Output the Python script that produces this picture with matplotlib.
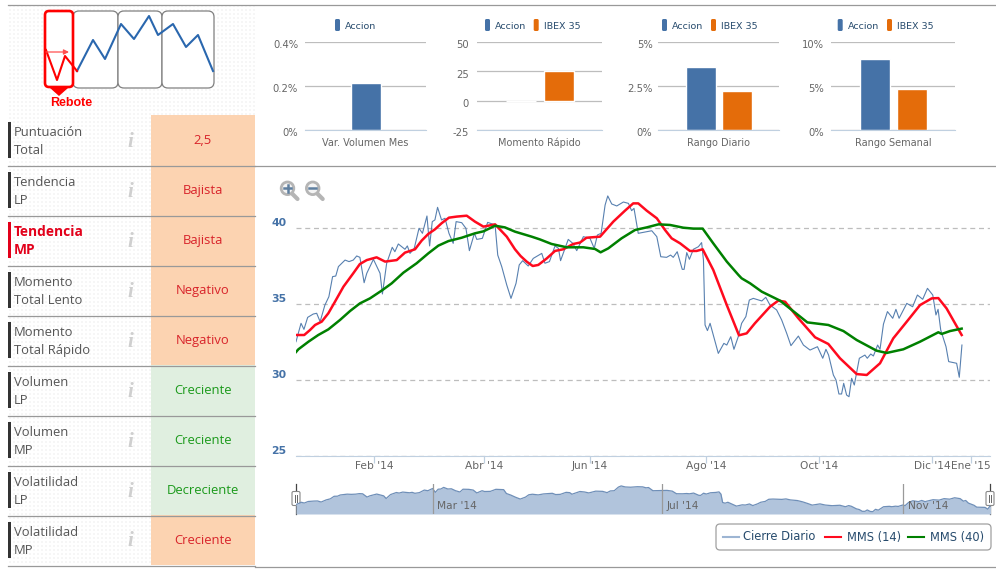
import numpy as np
import matplotlib
matplotlib.use('Agg')
import matplotlib.pyplot as plt
from matplotlib.patches import FancyBboxPatch, Rectangle, Circle, Polygon
from matplotlib.transforms import ScaledTranslation

W, H = 996, 569

# main chart, x is the trading session number
close_x = [0, 1.9, 3.0, 4.4, 6.5, 7.8, 9.1, 10.9, 12.4, 13.8, 15.0, 16.0, 18.5, 20.0, 21.6, 22.9, 24.1, 25.7, 26.7,
           29.2, 31.7, 32.6, 34.2, 36.3, 37.3, 38.6, 41.1, 42.0, 43.0, 44.6, 46.4, 47.7, 49.4, 50.4, 51.4, 52.4,
           53.4, 54.9, 56.2, 57.7, 59.3, 60.4, 62.5, 64.1, 65.4, 67.3, 68.2, 70.3, 72.3, 75.1, 76.1, 77.6, 79.5,
           81.1, 83.0, 84.2, 85.5, 87.6, 89.5, 92.7, 93.9, 95.6, 97.7, 99.0, 99.8, 102.7, 104.4, 105.9, 108.4,
           110.9, 112.5, 113.7, 115.1, 116.6, 117.6, 119.1, 121.0, 123.5, 125.4, 126.6, 127.5, 129.1, 134.2,
           136.1, 137.6, 139.8, 141.3, 142.3, 143.8, 145.7, 146.4, 147.4, 148.4, 149.9, 151.8, 153.0, 153.7,
           154.3, 155.2, 156.2, 159.3, 161.4, 162.5, 164.0, 165.2, 166.9, 168.1, 169.7, 171.0, 172.5, 175.7,
           177.2, 178.8, 181.3, 183.2, 185.1, 186.7, 189.5, 191.4, 193.9, 196.7, 198.7, 199.9, 200.9, 202.7,
           203.7, 204.8, 205.8, 206.6, 207.7, 208.6, 209.6, 210.6, 212.5, 214.6, 215.5, 216.8, 217.8, 219.4,
           220.3, 221.6, 223.1, 225.1, 226.3, 227.5, 230.4, 232.6, 234.4, 236.4, 238.2, 240.2, 241.4, 242.2,
           243.2, 245.2, 246.2, 249.2, 250.2, 251.2]
close_y = [32.52, 33.73, 33.33, 34.12, 34.34, 34.39, 33.84, 34.93, 35.48, 36.80, 36.84, 37.46, 37.89, 37.79, 37.89,
           38.16, 38.07, 36.40, 37.02, 37.94, 37.02, 35.66, 37.68, 38.73, 38.44, 38.95, 38.60, 38.82, 38.33, 38.66,
           39.98, 39.65, 40.79, 38.82, 40.42, 40.53, 41.36, 40.53, 40.64, 39.65, 38.99, 40.42, 40.35, 39.98, 38.51,
           39.65, 39.25, 39.32, 40.37, 40.20, 38.22, 37.46, 36.25, 35.37, 36.36, 37.57, 37.85, 37.50, 38.00, 38.33,
           37.68, 37.79, 38.82, 38.66, 37.85, 39.25, 38.99, 38.51, 39.43, 39.32, 38.66, 39.54, 39.65, 41.51, 42.11,
           41.58, 41.45, 41.71, 41.62, 41.14, 41.29, 39.65, 39.82, 39.43, 38.11, 38.07, 38.22, 38.07, 38.44, 37.28,
           37.28, 38.38, 37.94, 38.60, 38.77, 39.04, 37.89, 33.62, 33.25, 33.73, 31.75, 32.41, 32.30, 32.85, 32.02,
           32.89, 33.73, 34.17, 35.26, 35.37, 35.20, 35.44, 34.93, 34.61, 33.95, 33.07, 32.26, 32.89, 32.30, 31.97,
           32.19, 31.43, 32.02, 31.64, 30.33, 30.00, 29.08, 29.08, 29.78, 29.01, 28.90, 30.11, 29.67, 31.43, 31.64,
           31.43, 31.71, 31.58, 32.30, 32.02, 33.68, 34.50, 34.06, 34.65, 34.06, 35.04, 34.82, 35.59, 35.31, 36.03,
           35.59, 34.28, 34.65, 33.29, 32.19, 31.21, 31.10, 30.18, 32.30]

mms14_x = [0, 3.1, 5.3, 7.2, 9.7, 12.2, 14.7, 17.9, 21.6, 24.1, 26.7, 30.4, 33.6, 38.0, 41.1, 44.9, 47.4, 49.9, 52.4,
           54.9, 57.7, 60.6, 64.4, 67.5, 70.7, 75.1, 79.5, 82.6, 84.7, 87.0, 89.3, 91.4, 94.6, 97.7, 100.8, 104.6,
           107.1, 109.6, 114.7, 119.7, 124.1, 127.2, 129.1, 132.3, 136.1, 139.2, 141.7, 144.9, 148.6, 151.1, 153.4,
           157.4, 162.5, 167.1, 170.0, 173.1, 178.8, 181.9, 184.5, 189.5, 195.8, 200.8, 205.2, 211.5, 215.3, 220.3,
           225.3, 230.4, 235.4, 239.8, 242.3, 245.4, 251.1]
mms14_y = [32.96, 32.96, 33.29, 33.62, 33.84, 34.39, 35.15, 36.14, 37.02, 37.63, 37.89, 38.07, 37.79, 37.89, 38.38,
           38.60, 39.17, 39.61, 39.91, 40.31, 40.68, 40.75, 40.81, 40.42, 40.09, 40.24, 39.43, 38.60, 38.16, 37.79,
           37.50, 37.57, 38.00, 38.49, 38.60, 38.95, 39.04, 39.36, 39.43, 40.42, 41.14, 41.62, 41.62, 41.14, 40.64,
           39.87, 39.32, 38.99, 38.49, 38.49, 38.60, 37.24, 34.93, 32.94, 33.07, 33.73, 34.82, 35.22, 35.15, 34.06,
           32.81, 32.37, 31.43, 30.39, 30.33, 31.10, 32.74, 33.84, 34.93, 35.37, 35.39, 34.71, 32.96]

mms40_x = [0, 0.9, 4.7, 8.4, 12.2, 16.6, 20.4, 24.1, 27.9, 32.3, 36.1, 40.5, 45.5, 49.9, 53.7, 57.5, 62.5, 67.5, 70.7,
           75.1, 78.8, 82.6, 88.9, 92.0, 96.4, 102.1, 108.4, 112.8, 114.9, 117.8, 122.8, 127.9, 132.3, 136.7, 141.1,
           146.1, 149.9, 153.4, 157.4, 162.5, 166.9, 168.1, 171.3, 175.7, 182.6, 192.9, 200.8, 206.5, 211.5, 219.0,
           222.8, 229.1, 235.4, 242.3, 243.6, 246.7, 251.1]
mms40_y = [31.84, 32.02, 32.52, 32.96, 33.33, 33.95, 34.54, 35.04, 35.37, 35.88, 36.36, 37.06, 37.68, 38.33, 38.84,
           39.14, 39.36, 39.65, 39.78, 40.15, 40.04, 39.76, 39.43, 39.25, 38.95, 38.73, 38.73, 38.62, 38.40, 38.66,
           39.32, 39.87, 40.04, 40.24, 40.20, 40.02, 39.96, 39.96, 38.99, 37.79, 36.91, 36.69, 36.36, 35.81, 35.22,
           33.79, 33.62, 33.22, 32.63, 31.93, 31.78, 32.02, 32.52, 33.14, 33.03, 33.22, 33.38]

month_pos = [29.4, 70.9, 110.9, 154.7, 197.4, 240.0, 254.6]
month_labels = ["Feb '14", "Abr '14", "Jun '14", "Ago '14", "Oct '14", "Dic '14", "Ene '15"]
nav_pos = [49.5, 132.5, 219.6]
nav_labels = ["Mar '14", "Jul '14", "Nov '14"]

# small bar charts
bar_titles = ['Var. Volumen Mes', 'Momento Rápido', 'Rango Diario', 'Rango Semanal']
accion_vals = [0.214, 0.0, 3.58, 8.07]
ibex_vals = [None, 25.5, 2.22, 4.66]
bar_ticks = [[0, 0.2, 0.4], [-25, 0, 25, 50], [0, 2.5, 5], [0, 5, 10]]
bar_ticklabels = [['0%', '0.2%', '0.4%'], ['-25', '0', '25', '50'], ['0%', '2.5%', '5%'], ['0%', '5%', '10%']]

# left table
row_names = [('Puntuación', 'Total'), ('Tendencia', 'LP'), ('Tendencia', 'MP'), ('Momento', 'Total Lento'),
             ('Momento', 'Total Rápido'), ('Volumen', 'LP'), ('Volumen', 'MP'), ('Volatilidad', 'LP'),
             ('Volatilidad', 'MP')]
row_values = ['2,5', 'Bajista', 'Bajista', 'Negativo', 'Negativo', 'Creciente', 'Creciente', 'Decreciente', 'Creciente']
row_good = [False, False, False, False, False, True, True, True, False]
selected_row = 2

BLUE = '#4572a7'
ORANGE = '#e46c0a'
GRID = '#bdbdbd'
AXIS = '#c0d0e0'
LEGEND_TXT = '#274b6d'
TICK_TXT = '#666666'
LINE_GRAY = '#999999'


def make_axes(x0, y0, x1, y1):
    ax = fig.add_axes([x0 / W, 1 - y1 / H, (x1 - x0) / W, (y1 - y0) / H])
    ax.patch.set_alpha(0)
    return ax


def shift_labels(labels, dx, dy):
    for lbl in labels:
        lbl.set_transform(lbl.get_transform() + ScaledTranslation(dx / 100, dy / 100, fig.dpi_scale_trans))


fig = plt.figure(figsize=(W / 100, H / 100), dpi=100)

# page layer in pixels
page = fig.add_axes([0, 0, 1, 1])
page.set_xlim(0, W)
page.set_ylim(H, 0)
page.axis('off')

# dotted background of the left panel
tile = np.ones((H, W, 3))
tile[0::4, :] = 1
for a in [1, 2]:
    for b in [1, 2]:
        tile[a::4, b::4] = 0.965
mask = np.zeros((H, W), dtype=bool)
mask[5:115, 8:255] = True
mask[115:565, 8:151] = True
tile[~mask] = 1
page.imshow(tile, extent=(0, W, H, 0), interpolation='nearest', aspect='auto', zorder=0)

page.plot([8, 996], [4.5, 4.5], color=LINE_GRAY, lw=0.9)
page.plot([255, 996], [165.5, 165.5], color=LINE_GRAY, lw=0.9)
page.plot([255, 996], [566.5, 566.5], color=LINE_GRAY, lw=0.9)

# rows
for i in range(len(row_names)):
    top = 115 + 50 * i
    fill = '#e0efe0' if row_good[i] else '#fcd3b1'
    page.add_patch(Rectangle((151, top), 104, 50, color=fill, lw=0, zorder=1))
    page.plot([8, 255], [top + 50.5, top + 50.5], color=LINE_GRAY, lw=0.9, zorder=2)
    sel = i == selected_row
    page.add_patch(Rectangle((8, top + 7), 3, 36, color='#e2001a' if sel else '#333333', lw=0, zorder=2))
    for j in range(2):
        page.text(14, top + 17 + 18 * j, row_names[i][j], fontsize=9.9 if sel else 9.4, family='Open Sans', va='center',
                  color='#e2001a' if sel else '#555555', fontweight='bold' if sel else 'normal')
    page.text(130, top + 26.5, 'i', fontsize=15, family='Liberation Serif', style='italic', fontweight='bold',
              color='#cfcfcf', ha='center', va='center')
    page.text(203, top + 25, row_values[i], fontsize=9.4, family='Open Sans', ha='center', va='center',
              color='#1a991a' if row_good[i] else '#d8232a')

# phase sketch
for x0, x1 in [(73, 118), (118, 162), (162, 214)]:
    page.add_patch(FancyBboxPatch((x0 + 6, 17), x1 - x0 - 12, 65, boxstyle='round,pad=6', fc='white', ec='#808080', lw=0.9, zorder=2))
page.add_patch(FancyBboxPatch((49, 15), 20, 68, boxstyle='round,pad=4', fc='white', ec='#ff0000', lw=1.9, zorder=3))
page.add_patch(Polygon([[50, 88], [68, 88], [59, 96]], color='#ff0000', lw=0, zorder=3))
page.plot([77, 93, 105, 121, 134, 149, 158, 173, 186, 198, 213], [71, 40, 59, 24, 39, 16, 35, 24, 47, 35, 71],
          color='#2a67ae', lw=1.5, zorder=4)
page.plot([46, 57, 65, 77], [50, 80, 56, 71], color='#ff0000', lw=1.5, zorder=4)
page.annotate('', xy=(69, 52), xytext=(46, 52), zorder=4,
              arrowprops=dict(arrowstyle='-|>,head_width=0.15,head_length=0.3', color='#ff5050', lw=0.9, shrinkA=0, shrinkB=0))
page.text(71.5, 103, 'Rebote', fontsize=9, family='Liberation Sans', fontweight='bold', color='#ff0000', ha='center', va='center')

# bar charts
bar_boxes = [(305, 426), (477, 602), (658, 779), (831, 955)]
bar_limits = [(0, 0.4), (-25, 50), (0, 5), (0, 10)]
bar_offsets = [0, 19, 18, 18.5]
legend_x = [(335, None), (485, 533.7), (662, 711), (837.7, 887)]
label_pad = [5, 6, 4, 5]
for i in range(4):
    x0, x1 = bar_boxes[i]
    ax = make_axes(x0, 42, x1, 130)
    ax.set_xlim(-0.5, 0.5)
    ax.set_ylim(*bar_limits[i])
    ax.set_yticks(bar_ticks[i])
    ax.set_yticklabels(bar_ticklabels[i], fontsize=7.2, color=TICK_TXT)
    ax.set_xticks([0])
    ax.set_xticklabels([bar_titles[i]], fontsize=7, color=TICK_TXT)
    ax.tick_params(axis='x', length=0, pad=5.5)
    ax.tick_params(axis='y', length=0, pad=label_pad[i])
    shift_labels(ax.get_yticklabels(), 0, -2.5)
    ax.grid(axis='y', color=GRID, lw=0.9)
    ax.set_axisbelow(True)
    for s in ['top', 'left', 'right']:
        ax.spines[s].set_visible(False)
    ax.spines['bottom'].set_color(AXIS)
    width = x1 - x0
    bw = 30 / width
    if ibex_vals[i] is None:
        ax.bar(0, accion_vals[i], bw, color=BLUE, edgecolor='white', lw=1.0, clip_on=False)
    else:
        off = bar_offsets[i] / width
        ax.bar(-off, accion_vals[i], bw, color=BLUE, edgecolor='white', lw=1.0, clip_on=False)
        ax.bar(off, ibex_vals[i], bw, color=ORANGE, edgecolor='white', lw=1.0, clip_on=False)
    bx, ox = legend_x[i]
    page.add_patch(FancyBboxPatch((bx + 1.5, 20.5), 2, 9, boxstyle='round,pad=1.5', fc=BLUE, ec='none', zorder=3))
    page.text(bx + 10, 26.5, 'Accion', fontsize=6.8, color=LEGEND_TXT, va='center')
    if ox is not None:
        page.add_patch(FancyBboxPatch((ox + 1.5, 20.5), 2, 9, boxstyle='round,pad=1.5', fc=ORANGE, ec='none', zorder=3))
        page.text(ox + 10.3, 26.5, 'IBEX 35', fontsize=6.8, color=LEGEND_TXT, va='center')

# zoom buttons
for cx, sym in [(287.5, '+'), (312.7, '-')]:
    page.plot([cx + 4, cx + 10], [193, 199], color='#b5b5b5', lw=3, solid_capstyle='round', zorder=3)
    page.add_patch(Circle((cx, 188.3), 6.3, fc='#f4f4f4', ec='#b5b5b5', lw=2, zorder=4))
    page.plot([cx - 3.5, cx + 3.5], [188.3, 188.3], color='#5f7f9f', lw=1.8, zorder=5)
    if sym == '+':
        page.plot([cx, cx], [184.8, 191.8], color='#5f7f9f', lw=1.8, zorder=5)

# main chart
ax = make_axes(296, 170, 990, 456)
ax.set_xlim(0, 694 / 2.651)
ax.set_ylim(25, 25 + 286 / 15.2)
ax.set_yticks([25, 30, 35, 40])
ax.set_yticklabels(['25', '30', '35', '40'], fontsize=7.8, fontweight='bold', color=BLUE)
ax.tick_params(axis='y', length=0, pad=7)
shift_labels(ax.get_yticklabels(), 0, 6)
ax.set_xticks(month_pos)
ax.set_xticklabels(month_labels, fontsize=7.7, color=TICK_TXT)
ax.tick_params(axis='x', length=5, color=AXIS, width=0.9, pad=1)
shift_labels(ax.get_xticklabels(), 0, 3)
ax.grid(axis='y', color=GRID, lw=0.9, ls=(0, (4, 3)))
ax.set_axisbelow(True)
for s in ['top', 'left', 'right']:
    ax.spines[s].set_visible(False)
ax.spines['bottom'].set_color(AXIS)
ax.plot(close_x, close_y, color=BLUE, lw=0.8, alpha=0.9)
ax.plot(mms14_x, mms14_y, color='#ff0a1e', lw=1.8)
ax.plot(mms40_x, mms40_y, color='#008000', lw=1.8)

# navigator
nav = make_axes(296, 484, 990, 514)
nav.set_xlim(0, 251)
nav.set_ylim(27.7, 43.1)
nav.axis('off')
nav.fill_between(close_x, close_y, 27.7, color='#b1c4dc', lw=0)
nav.plot(close_x, close_y, color='#6f8fb8', lw=0.9)
for p, lab in zip(nav_pos, nav_labels):
    nav.axvline(p, color='#9a9a9a', lw=0.9)
    nav.annotate(lab, (p, 27.7), xytext=(3.2, 6), textcoords='offset points', fontsize=7.7, color=TICK_TXT, va='center')
for hx in [296, 990]:
    page.plot([hx, hx], [484, 514], color='#444444', lw=0.9, zorder=5)
    page.add_patch(FancyBboxPatch((hx - 2.5, 493), 5, 11, boxstyle='round,pad=1.5', fc='white', ec='#888888', lw=0.8, zorder=6))
    for d in [-1.3, 1.3]:
        page.plot([hx + d, hx + d], [495, 502], color='#666666', lw=0.7, zorder=7)

# legend
page.add_patch(FancyBboxPatch((720, 528), 267, 18, boxstyle='round,pad=4', fc='white', ec='#a0a0a0', lw=0.9, zorder=3))
swatch_x = [723, 825, 908]
swatch_col = ['#9db5d3', '#ff0a1e', '#008000']
legend_names = ['Cierre Diario', 'MMS (14)', 'MMS (40)']
legend_txt_x = [743, 846.7, 929.6]
for i in range(3):
    page.plot([swatch_x[i], swatch_x[i] + 16], [537, 537], color=swatch_col[i], lw=1.5, zorder=4)
    page.text(legend_txt_x[i], 537, legend_names[i], fontsize=8.3, color=LEGEND_TXT, va='center', zorder=4)

fig.savefig('out.png', dpi=100)
